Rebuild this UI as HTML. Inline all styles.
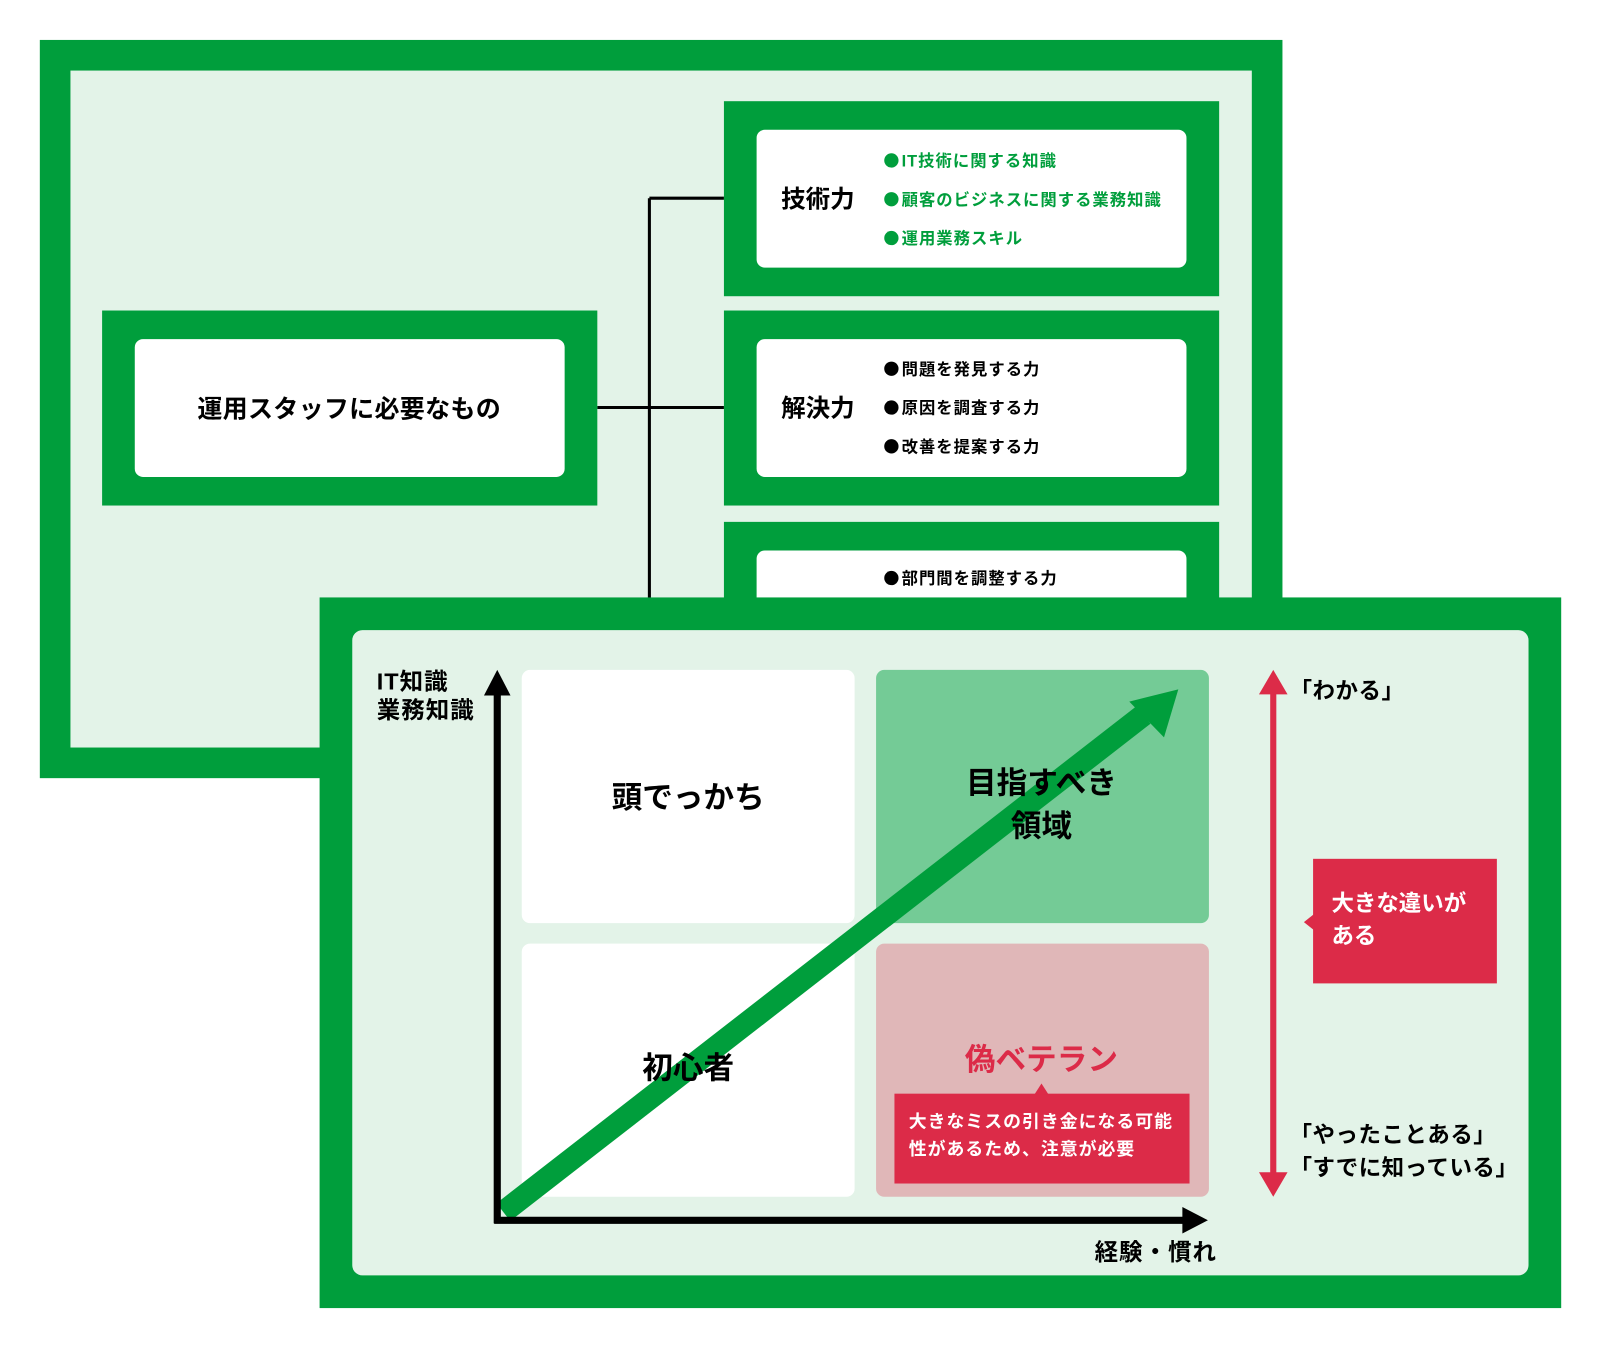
<!DOCTYPE html>
<html><head><meta charset="utf-8"><style>html,body{margin:0;padding:0;background:#fff}svg{display:block}text{font-family:"Liberation Sans","Noto Sans CJK JP",sans-serif;font-weight:bold}</style></head><body>
<svg width="1600" height="1347" viewBox="0 0 1567 1319" xmlns="http://www.w3.org/2000/svg">
<rect x="0" y="0" width="1567" height="1319" fill="#fff"/>
<rect x="39" y="39" width="1217" height="723" fill="#009e3c"/>
<rect x="69" y="69" width="1157" height="663" fill="#e3f3e8"/>
<g stroke="#000" stroke-width="3" fill="none">
<line x1="636" y1="194" x2="636" y2="600"/>
<line x1="585" y1="399" x2="709" y2="399"/>
<line x1="636" y1="194" x2="709" y2="194"/>
</g>
<rect x="100" y="304" width="485" height="191" fill="#009e3c"/>
<rect x="132" y="332" width="421" height="135" rx="8" fill="#fff"/>
<text x="342" y="409" font-size="24.5" text-anchor="middle" letter-spacing="0.3">運用スタッフに必要なもの</text>
<rect x="709" y="99" width="485" height="191" fill="#009e3c"/>
<rect x="741" y="127" width="421" height="135" rx="8" fill="#fff"/>
<rect x="709" y="304" width="485" height="191" fill="#009e3c"/>
<rect x="741" y="332" width="421" height="135" rx="8" fill="#fff"/>
<rect x="709" y="511" width="485" height="191" fill="#009e3c"/>
<rect x="741" y="539" width="421" height="135" rx="8" fill="#fff"/>
<text x="765" y="203" font-size="24">技術力</text>
<text x="765" y="408" font-size="24">解決力</text>
<g fill="#009e3c"><circle cx="873" cy="157" r="7"/><circle cx="873" cy="195" r="7"/><circle cx="873" cy="233" r="7"/></g>
<g font-size="16" letter-spacing="1" fill="#009e3c"><text x="883" y="163">IT技術に関する知識</text><text x="883" y="201">顧客のビジネスに関する業務知識</text><text x="883" y="239">運用業務スキル</text></g>
<g><circle cx="873" cy="361" r="7"/><circle cx="873" cy="399" r="7"/><circle cx="873" cy="437" r="7"/><circle cx="873" cy="566" r="7"/></g>
<g font-size="16" letter-spacing="1"><text x="883" y="367">問題を発見する力</text><text x="883" y="405">原因を調査する力</text><text x="883" y="443">改善を提案する力</text><text x="883" y="572">部門間を調整する力</text></g>
<rect x="313" y="585" width="1216" height="696" fill="#009e3c"/>
<rect x="345" y="617" width="1152" height="632" rx="10" fill="#e3f3e8"/>
<rect x="511" y="656" width="326" height="248" rx="8" fill="#fff"/>
<rect x="858" y="656" width="326" height="248" rx="8" fill="#74cb96"/>
<rect x="511" y="924" width="326" height="248" rx="8" fill="#fff"/>
<rect x="858" y="924" width="326" height="248" rx="8" fill="#e0b7b8"/>
<line x1="493" y1="1187" x2="1120" y2="700" stroke="#009e3c" stroke-width="22"/>
<polygon points="1154,675 1106,687 1140,722" fill="#009e3c"/>
<g font-size="30" text-anchor="middle">
<text x="674" y="791">頭でっかち</text>
<text x="674" y="1056">初心者</text>
<text x="1020" y="777">目指すべき</text>
<text x="1020" y="819">領域</text>
<text x="1020" y="1048" fill="#dc2b48">偽ベテラン</text>
</g>
<line x1="487" y1="678" x2="487" y2="1198" stroke="#000" stroke-width="7"/>
<polygon points="487,656 474,681 500,681" fill="#000"/>
<line x1="484" y1="1195" x2="1162" y2="1195" stroke="#000" stroke-width="7"/>
<polygon points="1183,1195 1158,1182 1158,1208" fill="#000"/>
<g font-size="23" letter-spacing="1"><text x="369" y="675">IT知識</text><text x="369" y="703">業務知識</text><text x="1072" y="1234">経験・慣れ</text></g>
<rect x="876" y="1071" width="289" height="88" fill="#dc2b48"/>
<polygon points="1013,1072 1020,1061 1027,1072" fill="#dc2b48"/>
<g font-size="17.5" letter-spacing="1" fill="#fff"><text x="890" y="1104">大きなミスの引き金になる可能</text><text x="890" y="1131">性があるため、注意が必要</text></g>
<line x1="1247" y1="675" x2="1247" y2="1152" stroke="#dc2b48" stroke-width="6"/>
<polygon points="1247,656 1233,680 1261,680" fill="#dc2b48"/>
<polygon points="1247,1172 1233,1148 1261,1148" fill="#dc2b48"/>
<g font-size="22" letter-spacing="0.5"><text x="1263" y="684">「わかる」</text><text x="1263" y="1119">「やったことある」</text><text x="1263" y="1151">「すでに知っている」</text></g>
<rect x="1286" y="841" width="180" height="122" fill="#dc2b48"/>
<polygon points="1287,895 1277,903 1287,911" fill="#dc2b48"/>
<g font-size="22" fill="#fff"><text x="1304" y="892">大きな違いが</text><text x="1304" y="924">ある</text></g>
</svg>
</body></html>
